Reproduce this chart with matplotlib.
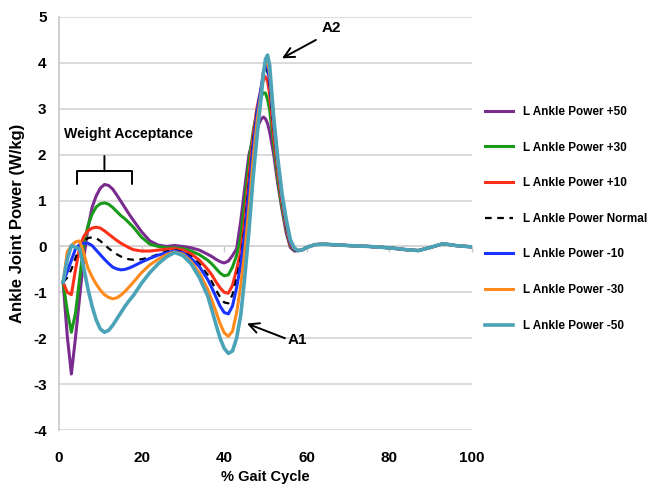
import matplotlib
matplotlib.use("Agg")
import matplotlib.pyplot as plt

# ── Data (% gait cycle vs ankle power, W/kg) ────
stance_pct = [1, 2, 3, 4, 5, 6, 7, 8, 9, 10, 11, 12, 13, 14, 15, 16, 17, 18,
              20, 22, 24, 26, 28, 30, 32, 34, 36,
              37, 38, 39, 40, 41, 42, 43, 44, 45, 46, 47, 48, 49, 49.5, 50,
              50.5, 51, 52, 53, 54, 55, 56, 57]
swing_pct = [58, 59, 60, 62, 64, 66, 70, 75, 80, 84, 87, 90, 93, 96, 100]
swing_power = [-0.09, -0.07, -0.02, 0.04, 0.05, 0.04, 0.02, 0.0, -0.03,
               -0.07, -0.09, -0.02, 0.06, 0.02, -0.01]

power_p50 = [-0.78, -1.95, -2.78, -1.98, -1.1, -0.25, 0.4, 0.85, 1.1, 1.27,
             1.35, 1.33, 1.25, 1.12, 0.98, 0.84, 0.7, 0.57,
             0.32, 0.12, 0.03, 0.0, 0.02, 0.0, -0.03, -0.08, -0.17,
             -0.22, -0.28, -0.33, -0.36, -0.32, -0.2, -0.05, 0.55, 1.3, 2.0,
             2.35, 2.6, 2.78, 2.82, 2.78, 2.68, 2.5, 2.0, 1.35, 0.8, 0.3, -0.02, -0.1]
power_p30 = [-0.78, -1.4, -1.87, -1.45, -0.7, 0.05, 0.45, 0.7, 0.86, 0.93,
             0.95, 0.92, 0.85, 0.76, 0.67, 0.6, 0.51, 0.42,
             0.2, 0.05, 0.0, -0.03, -0.03, -0.05, -0.1, -0.18, -0.3,
             -0.38, -0.48, -0.58, -0.64, -0.62, -0.45, -0.2, 0.2, 1.0, 1.85,
             2.5, 3.0, 3.28, 3.35, 3.34, 3.2, 2.98, 2.2, 1.45, 0.85, 0.38, 0.02, -0.09]
power_p10 = [-0.78, -1.0, -1.05, -0.5, -0.03, 0.22, 0.34, 0.4, 0.42, 0.4,
             0.34, 0.27, 0.2, 0.13, 0.07, 0.02, -0.03, -0.07,
             -0.1, -0.1, -0.08, -0.06, -0.05, -0.08, -0.16, -0.3, -0.5,
             -0.62, -0.77, -0.9, -1.0, -1.02, -0.85, -0.5, -0.12, 0.6, 1.55,
             2.4, 3.05, 3.45, 3.63, 3.7, 3.6, 3.32, 2.4, 1.6, 0.95, 0.42, 0.04, -0.08]
power_normal = [-0.78, -0.68, -0.5, -0.25, 0.0, 0.12, 0.18, 0.2, 0.18, 0.12,
                0.04, -0.04, -0.11, -0.17, -0.22, -0.26, -0.28, -0.29,
                -0.28, -0.24, -0.17, -0.11, -0.08, -0.12, -0.22, -0.38, -0.62,
                -0.77, -0.95, -1.1, -1.22, -1.24, -1.05, -0.7, -0.25, 0.45, 1.4,
                2.3, 3.0, 3.5, 3.76, 3.88, 3.8, 3.5, 2.55, 1.7, 1.0, 0.45, 0.05, -0.08]
power_m10 = [-0.78, -0.55, -0.3, -0.05, 0.04, 0.07, 0.07, 0.02, -0.08, -0.18,
             -0.28, -0.37, -0.45, -0.49, -0.51, -0.5, -0.47, -0.43,
             -0.34, -0.26, -0.19, -0.14, -0.1, -0.14, -0.26, -0.44, -0.72,
             -0.9, -1.1, -1.3, -1.44, -1.47, -1.3, -0.9, -0.4, 0.3, 1.25,
             2.2, 2.95, 3.5, 3.8, 3.94, 3.9, 3.6, 2.65, 1.75, 1.05, 0.5, 0.08, -0.07]
power_m30 = [-0.78, -0.12, 0.02, 0.1, 0.12, -0.15, -0.47, -0.66, -0.82, -0.95,
             -1.05, -1.11, -1.14, -1.12, -1.06, -0.98, -0.88, -0.78,
             -0.57, -0.4, -0.28, -0.18, -0.12, -0.17, -0.33, -0.58, -0.93,
             -1.17, -1.42, -1.68, -1.88, -1.96, -1.85, -1.45, -0.85, -0.1, 0.85,
             1.9, 2.75, 3.4, 3.8, 4.02, 4.05, 3.78, 2.75, 1.8, 1.1, 0.55, 0.12, -0.05]
power_m50 = [-0.78, -0.28, 0.02, -0.02, -0.05, -0.47, -0.92, -1.3, -1.6, -1.8,
             -1.87, -1.83, -1.72, -1.58, -1.44, -1.3, -1.18, -1.07,
             -0.8, -0.57, -0.38, -0.23, -0.13, -0.2, -0.38, -0.68, -1.08,
             -1.38, -1.7, -2.0, -2.22, -2.33, -2.28, -2.0, -1.5, -0.65, 0.35,
             1.5, 2.45, 3.3, 3.78, 4.08, 4.17, 3.95, 2.8, 1.9, 1.15, 0.6, 0.15, -0.04]

series_labels = ["L Ankle Power +50", "L Ankle Power +30", "L Ankle Power +10",
                 "L Ankle Power Normal", "L Ankle Power -10",
                 "L Ankle Power -30", "L Ankle Power -50"]
series_colors = ["#7A2B8F", "#1A9A1A", "#FF3019", "black", "#1A33FF",
                 "#FF8A1C", "#4BA3B8"]
x_ticks = [0, 20, 40, 60, 80, 100]
y_ticks = [-4, -3, -2, -1, 0, 1, 2, 3, 4, 5]

plt.rcParams["font.family"] = ["Liberation Sans", "DejaVu Sans"]
plt.rcParams["font.weight"] = "bold"
plt.rcParams["axes.unicode_minus"] = False

fig = plt.figure(figsize=(6.57, 4.93), dpi=100)
ax = fig.add_axes([59 / 657, 1 - 430 / 493, 413 / 657, 413 / 493])

gait_pct = stance_pct + swing_pct
all_series = [power_p50, power_p30, power_p10, power_normal,
              power_m10, power_m30, power_m50]
for vals, lab, col in zip(all_series, series_labels, series_colors):
    y = vals + swing_power
    if lab.endswith("Normal"):
        ax.plot(gait_pct, y, color=col, lw=1.6, ls=(0, (3, 2.5)), label=lab)
    elif lab.endswith("-50"):
        ax.plot(gait_pct, y, color=col, lw=2.6, label=lab)
    else:
        ax.plot(gait_pct, y, color=col, lw=2.2, label=lab)

ax.set_xlim(0, 100)
ax.set_ylim(-4, 5)
ax.set_xticks(x_ticks)
ax.set_yticks(y_ticks)
ax.tick_params(axis="x", length=0, pad=15, labelsize=11)
ax.tick_params(axis="y", length=0, pad=9, labelsize=11)
ax.grid(axis="y", color="#D4D4D4", lw=1.2, zorder=0)
ax.set_axisbelow(True)
for side in ["top", "right", "bottom"]:
    ax.spines[side].set_visible(False)
ax.spines["left"].set_color("#C8C8C8")
ax.spines["left"].set_linewidth(1.2)

# small tick marks sitting on the zero line, like the Excel original
sec = ax.secondary_xaxis(4 / 9)
sec.set_alignment("bottom")
sec.set_xticks(x_ticks)
sec.tick_params(length=4, color="#C8C8C8", width=1.0, labelbottom=False)
sec.spines["bottom"].set_color("#D4D4D4")
sec.spines["bottom"].set_linewidth(1.2)

ax.set_xlabel("% Gait Cycle", fontsize=10.5, fontweight="bold", labelpad=4)
ax.set_ylabel("Ankle Joint Power (W/kg)", fontsize=12, fontweight="bold",
              labelpad=6)

# annotations
ax.text(16.9, 2.45, "Weight Acceptance", ha="center", va="center", fontsize=10.2)
ax.annotate("", xy=(11.0, 1.64), xytext=(11.0, 1.97),
            arrowprops=dict(arrowstyle="-[, widthB=1.98, lengthB=0.94",
                            lw=1.4, color="black", shrinkA=0, shrinkB=0,
                            mutation_scale=10))
ax.text(66.0, 4.76, "A2", ha="center", va="center", fontsize=11)
ax.annotate("", xy=(54.0, 4.10), xytext=(62.2, 4.5),
            arrowprops=dict(arrowstyle="->, head_length=0.6, head_width=0.3",
                            lw=1.4, color="black", shrinkA=0, shrinkB=0,
                            mutation_scale=12))
ax.text(57.6, -2.03, "A1", ha="center", va="center", fontsize=11)
ax.annotate("", xy=(45.5, -1.68), xytext=(54.7, -2.0),
            arrowprops=dict(arrowstyle="->, head_length=0.6, head_width=0.3",
                            lw=1.4, color="black", shrinkA=0, shrinkB=0,
                            mutation_scale=12))

fig.legend(loc="upper left", bbox_to_anchor=(485 / 657, 1 - 106 / 493),
           frameon=False, borderpad=0, borderaxespad=0, handlelength=2.37,
           handletextpad=0.85, labelspacing=2.0, prop={"size": 8.5, "weight": "bold"})

fig.savefig("out.png", dpi=100)
